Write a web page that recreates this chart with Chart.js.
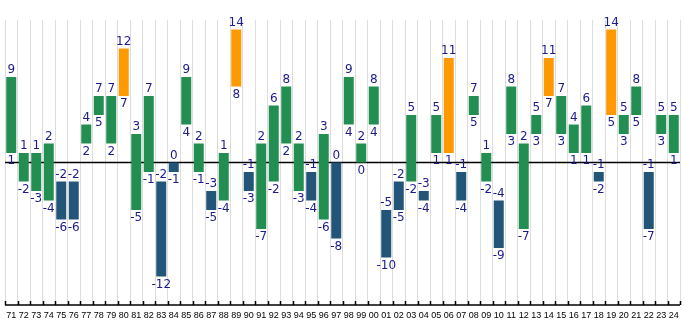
<!DOCTYPE html>
<html>
<head>
<meta charset="utf-8">
<script src="https://cdn.jsdelivr.net/npm/chart.js@4"></script>
<style>
  html, body { margin: 0; padding: 0; background: #fff; }
  #wrap { width: 685px; height: 330px; }
</style>
</head>
<body>
<div id="wrap"><canvas id="chart" width="685" height="330"></canvas></div>
<script>
const years = ['71','72','73','74','75','76','77','78','79','80','81','82','83','84','85','86','87','88','89','90',
  '91','92','93','94','95','96','97','98','99','00','01','02','03','04','05','06','07','08','09','10',
  '11','12','13','14','15','16','17','18','19','20','21','22','23','24']
const lows  = [1,-2,-3,-4,-6,-6,2,5,2,7,-5,-1,-12,-1,4,-1,-5,-4,8,-3,
  -7,-2,2,-3,-4,-6,-8,4,0,4,-10,-5,-2,-4,1,1,-4,5,-2,-9,
  3,-7,3,7,3,1,1,-2,5,3,5,-7,3,1]
const highs = [9,1,1,2,-2,-2,4,7,7,12,3,7,-2,0,9,2,-3,1,14,-1,
  2,6,8,2,-1,3,0,9,2,8,-5,-2,5,-3,5,11,-1,7,1,-4,
  8,2,5,11,7,4,6,-1,14,5,8,-1,5,5]

const GREEN = '#238e52'
const BLUE = '#225577'
const ORANGE = '#ff9900'
const TEXT = '#1c1c8c'

function barColor(i){
    if(highs[i] <= 0) return BLUE
    if(highs[i] >= 11) return ORANGE
    return GREEN
}

// zero line behind the bars, ticks and value labels on top
const extras = {
    id: 'extras',
    beforeDatasetsDraw(chart){
        const {ctx, chartArea, scales} = chart
        const y0 = scales.y.getPixelForValue(0)
        ctx.save()
        ctx.strokeStyle = '#000'
        ctx.lineWidth = 1.5
        ctx.beginPath()
        ctx.moveTo(chartArea.left, y0)
        ctx.lineTo(chartArea.right, y0)
        ctx.stroke()
        ctx.restore()
    },
    afterDatasetsDraw(chart){
        const {ctx, chartArea, scales} = chart
        const meta = chart.getDatasetMeta(0)
        ctx.save()
        // bottom axis with inward ticks
        ctx.strokeStyle = '#000'
        ctx.lineWidth = 1.5
        ctx.beginPath()
        ctx.moveTo(chartArea.left, chartArea.bottom)
        ctx.lineTo(chartArea.right, chartArea.bottom)
        const step = (chartArea.right - chartArea.left) / years.length
        for(let i=0; i<=years.length; i++){
            const x = Math.round(chartArea.left + i*step) + 0.5
            ctx.moveTo(x, chartArea.bottom)
            ctx.lineTo(x, chartArea.bottom - 4)
        }
        ctx.stroke()
        // value labels
        ctx.fillStyle = TEXT
        ctx.font = '12px "DejaVu Sans", sans-serif'
        ctx.textAlign = 'center'
        meta.data.forEach((bar, i)=>{
            const top = scales.y.getPixelForValue(highs[i])
            const bottom = scales.y.getPixelForValue(lows[i])
            ctx.textBaseline = 'bottom'
            ctx.fillText(String(highs[i]), bar.x, top - 1)
            ctx.textBaseline = 'top'
            ctx.fillText(String(lows[i]), bar.x, bottom + 2)
        })
        ctx.restore()
    }
}

let chart = new Chart(document.querySelector('#chart'), {
    type: 'bar',
    data: {
        labels: years,
        datasets: [{
            data: years.map((y, i)=>[lows[i], highs[i]]),
            backgroundColor: years.map((y, i)=>barColor(i)),
            borderWidth: 0,
            barPercentage: 0.8,
            categoryPercentage: 1
        }]
    },
    options: {
        responsive: false,
        animation: false,
        layout: { padding: { top: 20, left: 5, right: 5, bottom: 0 } },
        plugins: { legend: { display: false }, tooltip: { enabled: false } },
        scales: {
            x: {
                offset: true,
                grid: { offset: true, color: '#dddddd', lineWidth: 1, drawTicks: false },
                border: { display: false },
                ticks: { color: '#000', font: { size: 9, family: '"Liberation Sans", sans-serif' }, padding: 5, maxRotation: 0, autoSkip: false },
                afterFit(scale){ scale.height = 25 }
            },
            y: {
                display: false,
                min: -15,
                max: 15
            }
        }
    },
    plugins: [extras]
})
</script>
</body>
</html>
